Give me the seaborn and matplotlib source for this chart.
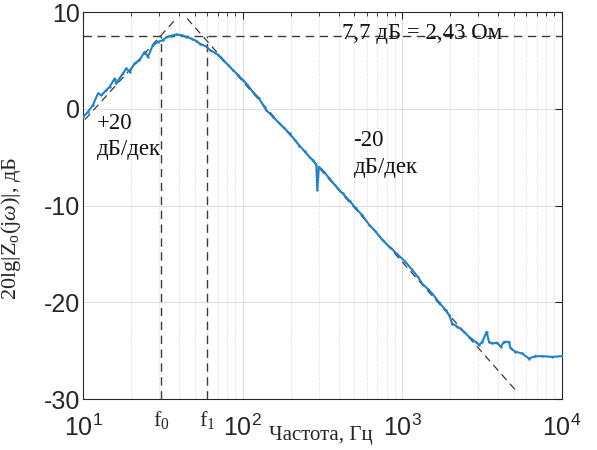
import numpy as np
import matplotlib
matplotlib.use('Agg')
import matplotlib.pyplot as plt
import matplotlib.ticker as mticker
import pandas as pd
import seaborn as sns

freq_log10 = [1.000, 1.031, 1.062, 1.094, 1.115, 1.146, 1.167, 1.198, 1.208, 1.250,
              1.271, 1.292, 1.323, 1.354, 1.386, 1.406, 1.438, 1.469, 1.500, 1.523,
              1.550, 1.585, 1.620, 1.648, 1.680, 1.710, 1.731, 1.773, 1.794, 1.846,
              1.877, 1.910, 1.940, 1.970, 2.002, 2.030, 2.064, 2.100, 2.148, 2.190,
              2.231, 2.260, 2.294, 2.330, 2.356, 2.390, 2.419, 2.440, 2.462, 2.468,
              2.478, 2.492, 2.510, 2.544, 2.580, 2.627, 2.670, 2.711, 2.750, 2.794,
              2.830, 2.877, 2.930, 2.981, 3.020, 3.064, 3.100, 3.127, 3.160, 3.189,
              3.231, 3.273, 3.294, 3.314, 3.346, 3.388, 3.419, 3.460, 3.480, 3.502,
              3.529, 3.544, 3.564, 3.596, 3.617, 3.638, 3.669, 3.679, 3.710, 3.752,
              3.794, 3.835, 3.877, 3.940, 4.000]
z_db = [-0.85, -0.30, 0.40, 1.60, 1.42, 1.94, 2.28, 3.14, 2.63, 3.66,
        4.18, 3.83, 4.70, 5.04, 5.90, 5.38, 6.59, 6.93, 7.10, 7.40,
        7.55, 7.69, 7.60, 7.45, 7.25, 7.03, 6.75, 6.45, 6.10, 5.60,
        5.04, 4.55, 4.00, 3.55, 2.97, 2.50, 1.76, 1.15, -0.13, -0.80,
        -1.50, -1.95, -2.54, -3.25, -3.80, -4.40, -4.96, -5.30, -5.75, -8.40,
        -6.00, -6.20, -6.50, -7.19, -7.90, -8.74, -9.50, -10.29, -11.00, -12.00,
        -12.60, -13.57, -14.40, -15.20, -15.80, -16.67, -17.40, -18.10, -18.60, -19.10,
        -20.00, -20.80, -21.30, -22.20, -22.50, -23.04, -23.56, -24.08, -24.40, -24.08,
        -23.04, -24.08, -24.24, -24.17, -24.60, -24.08, -24.08, -24.76, -25.10, -25.28,
        -25.80, -25.56, -25.56, -25.63, -25.56]

# asymptotes (+20 and -20 dB/dec)
rise_log10 = [1.0125, 1.575]
rise_db = [-1.1, 9.17]
fall_log10 = [1.652, 3.72]
fall_db = [9.35, -29.25]

peak_db = 7.5
f0 = 31
f1 = 60
decades = [10, 100, 1000, 10000]
decade_labels = [r'$\mathregular{10^{1}}$', r'$\mathregular{10^{2}}$',
                 r'$\mathregular{10^{3}}$', r'$\mathregular{10^{4}}$']

sns.set_style('white')
plt.rcParams['font.family'] = ['Liberation Sans', 'DejaVu Sans']
plt.rcParams['axes.unicode_minus'] = False
plt.rcParams['mathtext.fontset'] = 'custom'
plt.rcParams['mathtext.rm'] = 'Liberation Serif'
plt.rcParams['mathtext.it'] = 'Liberation Serif:italic'

serif = ['Liberation Serif', 'DejaVu Serif']
blue = '#1f82c8'
dash = '#3a3a3a'

df = pd.DataFrame({'f': np.power(10.0, freq_log10), 'db': z_db})
df_rise = pd.DataFrame({'f': np.power(10.0, rise_log10), 'db': rise_db})
df_fall = pd.DataFrame({'f': np.power(10.0, fall_log10), 'db': fall_db})

fig = plt.figure(figsize=(5.97, 4.5), dpi=100)
ax = fig.add_axes([0.139, 0.113, 0.802, 0.860])

ax.set_xscale('log')
ax.set_xlim(10, 10000)
ax.set_ylim(-30, 10)

# grid first so it stays behind
ax.grid(which='major', axis='both', color='#dcdcdc', lw=0.7, ls='-', zorder=0)
ax.grid(which='minor', axis='x', color='#d4d4d4', lw=0.7, ls=':', zorder=0)

ax.axhline(peak_db, color=dash, lw=1.0, dashes=(6, 4), zorder=2)
ax.vlines([f0, f1], -30, peak_db, color=dash, lw=1.0, linestyles=(0, (6, 4)), zorder=2)
sns.lineplot(data=df_rise, x='f', y='db', ax=ax, color=dash, lw=0.9, zorder=2)
ax.lines[-1].set_dashes((6, 4))
sns.lineplot(data=df_fall, x='f', y='db', ax=ax, color=dash, lw=0.9, zorder=2)
ax.lines[-1].set_dashes((6, 4))
sns.lineplot(data=df, x='f', y='db', ax=ax, color=blue, lw=1.5, marker='.',
             markersize=3.5, markeredgewidth=0, estimator=None, zorder=3)

ax.xaxis.set_major_locator(mticker.FixedLocator(decades))
ax.xaxis.set_major_formatter(mticker.FixedFormatter(decade_labels))
ax.xaxis.set_minor_locator(mticker.LogLocator(base=10, subs=np.arange(2, 10)))
ax.xaxis.set_minor_formatter(mticker.NullFormatter())
ax.set_yticks([-30, -20, -10, 0, 10])

ax.tick_params(which='both', direction='in', top=True, right=True, colors='#262626')
ax.tick_params(which='major', length=5, width=0.8)
ax.tick_params(which='minor', length=3, width=0.6)
ax.tick_params(axis='x', pad=11, labelsize=18)
ax.tick_params(axis='y', pad=2, labelsize=18)
for s in ax.spines.values():
    s.set_color('#262626')
    s.set_linewidth(0.8)

trans = ax.get_xaxis_transform()
ax.text(f0, -0.025, r'f$_\mathregular{0}$', transform=trans, ha='center', va='top',
        fontsize=16, family=serif)
ax.text(f1, -0.025, r'f$_\mathregular{1}$', transform=trans, ha='center', va='top',
        fontsize=16, family=serif)

ax.set_xlabel('Частота, Гц', fontsize=15, family=serif)
ax.xaxis.set_label_coords(0.497, -0.07)
ax.set_ylabel(r'20lg|Z$_\mathregular{o}$(j$\mathit{\omega}$)|, дБ', fontsize=16, family=serif)
ax.yaxis.set_label_coords(-0.125, 0.44)

ax.text(0.54, 0.93, '7,7 дБ = 2,43 Ом', transform=ax.transAxes, ha='left',
        va='baseline', fontsize=16.5, family=serif, color='#111111')
ax.text(0.03, 0.74, '+20\nдБ/дек', transform=ax.transAxes, ha='left', va='top',
        fontsize=16.5, family=serif, linespacing=1.35, color='#111111')
ax.text(0.565, 0.695, '-20\nдБ/дек', transform=ax.transAxes, ha='left', va='top',
        fontsize=16.5, family=serif, linespacing=1.35, color='#111111')

fig.savefig('out.png', dpi=100)
